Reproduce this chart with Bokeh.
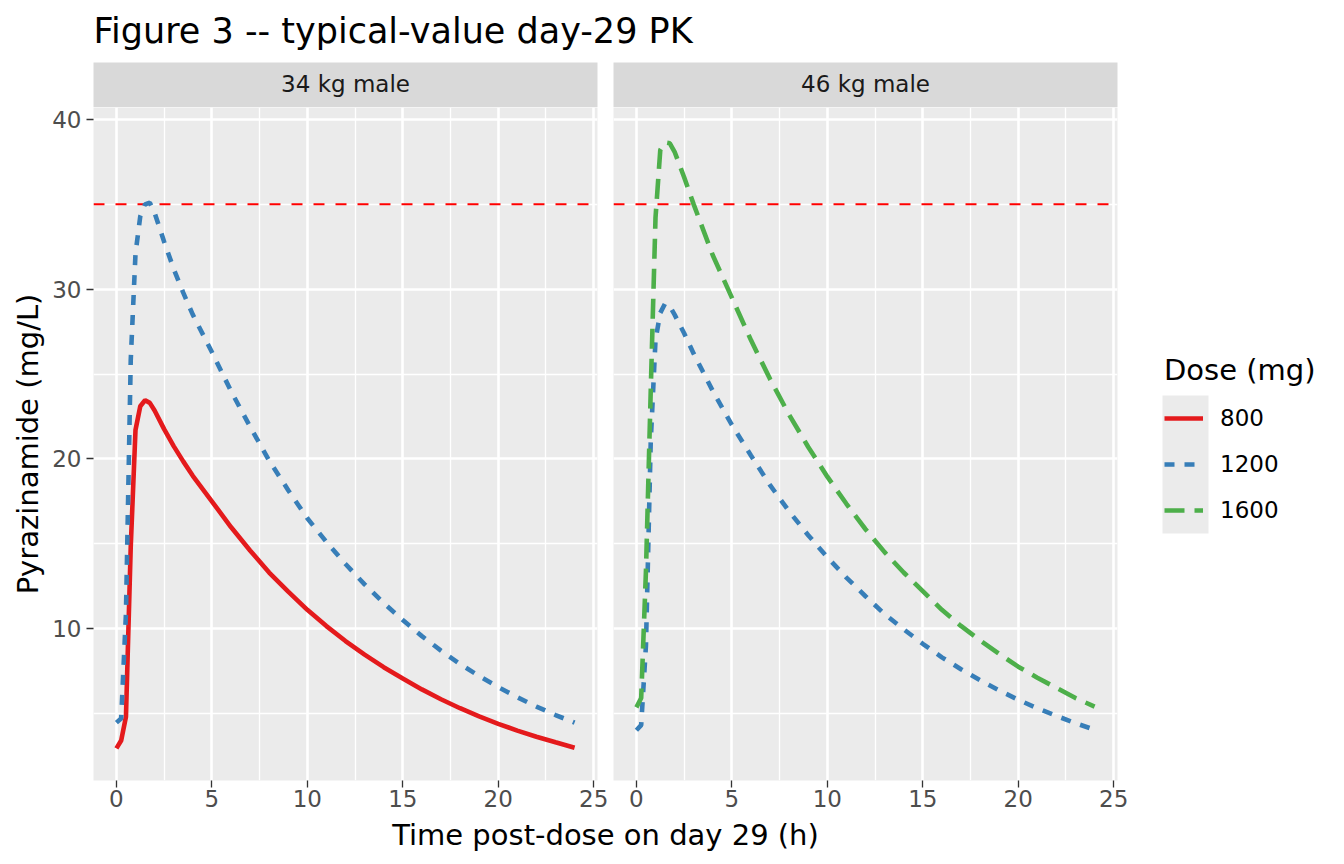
from bokeh.plotting import figure
from bokeh.layouts import column, row
from bokeh.models import (Range1d, FixedTicker, Span, Label, Legend, LegendItem,
                          BoxAnnotation, Grid)
from bokeh.embed import file_html
from bokeh.resources import INLINE

# ---- data: typical-value day-29 pyrazinamide concentrations (mg/L) ----
time_h = [0, 0.25, 0.5, 0.75, 1, 1.25, 1.5, 1.75, 2, 2.5, 3, 3.5, 4, 5, 6, 7, 8,
          9, 10, 11, 12, 13, 14, 15, 16, 17, 18, 19, 20, 21, 22, 23, 24]

conc_34kg_800 = [2.93, 3.4, 4.8, 14.8, 21.7, 23.1, 23.45, 23.3, 22.85, 21.75, 20.75,
                 19.85, 19.0, 17.5, 15.98, 14.6, 13.3, 12.17, 11.1, 10.14, 9.26, 8.46,
                 7.72, 7.05, 6.41, 5.83, 5.3, 4.82, 4.38, 3.98, 3.62, 3.29, 2.97]
conc_34kg_1200 = [4.45, 4.7, 10.9, 25.8, 32.1, 34.3, 35.0, 35.1, 34.5, 32.8, 31.2,
                  29.8, 28.5, 26.3, 24.0, 21.9, 19.9, 18.15, 16.5, 15.1, 13.8, 12.6,
                  11.5, 10.5, 9.55, 8.7, 7.9, 7.2, 6.55, 5.95, 5.4, 4.9, 4.45]
conc_46kg_1200 = [4.0, 4.3, 9.0, 21.0, 27.0, 28.6, 29.15, 29.0, 28.5, 27.4, 26.2,
                  25.1, 24.0, 22.0, 20.2, 18.45, 16.9, 15.5, 14.2, 13.0, 11.9, 10.85,
                  9.95, 9.1, 8.3, 7.6, 6.95, 6.35, 5.8, 5.3, 4.85, 4.42, 4.03]
conc_46kg_1600 = [5.35, 5.9, 13.4, 24.0, 34.2, 38.2, 38.65, 38.6, 38.1, 36.6, 35.0,
                  33.5, 32.0, 29.5, 27.0, 24.7, 22.6, 20.7, 18.95, 17.35, 15.85, 14.5,
                  13.3, 12.2, 11.1, 10.15, 9.3, 8.5, 7.75, 7.1, 6.5, 5.9, 5.4]

panel_labels = ["34 kg male", "46 kg male"]
dose_labels = ["800", "1200", "1600"]
threshold = 35

x_ticks = [0, 5, 10, 15, 20, 25]
x_minor = [2.5, 7.5, 12.5, 17.5, 22.5]
y_ticks = [10, 20, 30, 40]
y_minor = [5, 15, 25, 35]

# ---- styling ----
FONT = "DejaVu Sans"
PANEL_BG = "#EBEBEB"
STRIP_BG = "#D9D9D9"
DOSE_STYLE = {
    "800": dict(color="#E41A1C", dash="solid"),
    "1200": dict(color="#377EB8", dash="10 10"),
    "1600": dict(color="#4DAF4A", dash="20 10"),
}
LINE_W = 4.6

FRAME_W, FRAME_H = 504, 673
LEFT_PAD, GAP_L, GAP_R, RIGHT_PAD = 93, 16, 0, 20
BOTTOM_PAD = 36
HEADER_H, STRIP_H = 62, 45
W_LEFT = LEFT_PAD + FRAME_W + GAP_L
W_RIGHT = GAP_R + FRAME_W + RIGHT_PAD
W_TOTAL = 1344
PANEL_H = FRAME_H + BOTTOM_PAD
FOOTER_H = 864 - HEADER_H - STRIP_H - PANEL_H


def blank(width, height, xr, yr, bottom=0):
    p = figure(width=width, height=height, x_range=Range1d(*xr), y_range=Range1d(*yr),
               output_backend="svg", toolbar_location=None, title=None,
               min_border=0, min_border_bottom=bottom,
               x_axis_location=None, y_axis_location=None,
               background_fill_color="white", border_fill_color="white",
               outline_line_color=None)
    p.grid.visible = False
    return p


def style_axis(ax, standoff):
    ax.axis_line_color = None
    ax.major_tick_line_color = "#333333"
    ax.major_tick_line_width = 1.3
    ax.major_tick_out = 7
    ax.major_tick_in = 0
    ax.minor_tick_line_color = None
    ax.major_label_text_font = FONT
    ax.major_label_text_font_size = "23px"
    ax.major_label_text_color = "#4D4D4D"
    ax.major_label_standoff = standoff


def make_panel(width, left, right, show_y):
    p = figure(width=width, height=PANEL_H, title=None,
               x_range=Range1d(-1.2, 25.2), y_range=Range1d(1.04, 40.71),
               output_backend="svg", toolbar_location=None,
               min_border_left=left, min_border_right=right,
               min_border_top=0, min_border_bottom=BOTTOM_PAD,
               background_fill_color=PANEL_BG, border_fill_color="white",
               outline_line_color=None,
               y_axis_location="left" if show_y else None)
    xt = FixedTicker(ticks=x_ticks, minor_ticks=x_minor)
    yt = FixedTicker(ticks=y_ticks, minor_ticks=y_minor)
    p.xaxis.ticker = xt
    style_axis(p.xaxis[0], 2)
    p.xgrid.ticker = xt
    if show_y:
        p.yaxis.ticker = yt
        style_axis(p.yaxis[0], 5)
        p.yaxis.axis_label = "Pyrazinamide (mg/L)"
        p.yaxis.axis_label_text_font = FONT
        p.yaxis.axis_label_text_font_size = "29px"
        p.yaxis.axis_label_text_font_style = "normal"
        p.yaxis.axis_label_text_color = "black"
        p.yaxis.axis_label_standoff = 4
    if len(p.ygrid) == 0:
        p.add_layout(Grid(dimension=1, ticker=yt), "center")
    p.ygrid.ticker = yt
    for g in p.grid:
        g.grid_line_color = "white"
        g.grid_line_width = 2.6
        g.minor_grid_line_color = "white"
        g.minor_grid_line_width = 1.3
    ref = Span(location=threshold, dimension="width", line_color="#FF0000",
               line_width=2, line_dash="11 11", level="underlay")
    p.add_layout(ref)
    return p


def add_curve(p, y, dose):
    st = DOSE_STYLE[dose]
    return p.line(x=time_h, y=y, line_color=st["color"], line_width=LINE_W,
                  line_dash=st["dash"])


# ---- header with the figure title ----
header = blank(W_TOTAL, HEADER_H, (0, W_TOTAL), (0, HEADER_H))
header.add_layout(Label(x=LEFT_PAD, y=32, text="Figure 3 -- typical-value day-29 PK",
                        text_font=FONT, text_font_size="35px", text_color="black",
                        text_align="left", text_baseline="alphabetic"))


# ---- facet strips ----
def make_strip(width, left, right, text):
    s = figure(width=width, height=STRIP_H, x_range=Range1d(0, 1), y_range=Range1d(0, 1),
               output_backend="svg", toolbar_location=None, title=None,
               min_border_left=left, min_border_right=right,
               min_border_top=0, min_border_bottom=0,
               x_axis_location=None, y_axis_location=None,
               background_fill_color=STRIP_BG, border_fill_color="white",
               outline_line_color=None)
    s.grid.visible = False
    s.add_layout(Label(x=0.5, y=0.52, text=text, text_font=FONT,
                       text_font_size="23px", text_color="#1A1A1A",
                       text_align="center", text_baseline="middle"))
    return s


strip_l = make_strip(W_LEFT, LEFT_PAD, GAP_L, panel_labels[0])
strip_r = make_strip(W_RIGHT, GAP_R, RIGHT_PAD, panel_labels[1])

# ---- panels ----
p_left = make_panel(W_LEFT, LEFT_PAD, GAP_L, True)
add_curve(p_left, conc_34kg_800, "800")
add_curve(p_left, conc_34kg_1200, "1200")

p_right = make_panel(W_RIGHT, GAP_R, RIGHT_PAD, False)
add_curve(p_right, conc_46kg_1200, "1200")
add_curve(p_right, conc_46kg_1600, "1600")

# ---- legend (its frame lines up with the panel frames: 1 data unit = 1 px) ----
W_LEG = W_TOTAL - W_LEFT - W_RIGHT
leg_fig = blank(W_LEG, PANEL_H, (0, W_LEG), (0, FRAME_H), bottom=BOTTOM_PAD)
KEY_BOTTOM, KEY_TOP = 247, 385
leg_fig.add_layout(BoxAnnotation(left=25, right=71, bottom=KEY_BOTTOM, top=KEY_TOP,
                                 fill_color=PANEL_BG, fill_alpha=1.0,
                                 line_color=None, level="underlay"))
nan = float("nan")
items = []
for d in dose_labels:
    st = DOSE_STYLE[d]
    r = leg_fig.line(x=[nan], y=[nan], line_color=st["color"], line_width=LINE_W,
                     line_dash=st["dash"])
    items.append(LegendItem(label=d, renderers=[r]))
legend = Legend(items=items, location=(27, KEY_BOTTOM), title="Dose (mg)",
                title_text_font=FONT, title_text_font_size="29px",
                title_text_font_style="normal", title_text_color="black",
                title_standoff=8,
                label_text_font=FONT, label_text_font_size="23px",
                label_text_color="black",
                glyph_width=39, glyph_height=46, label_height=46,
                label_standoff=17, spacing=0, padding=0, margin=0,
                background_fill_alpha=0, border_line_color=None)
leg_fig.add_layout(legend)

# ---- footer with the shared x-axis title ----
footer = blank(W_TOTAL, FOOTER_H, (0, W_TOTAL), (0, FOOTER_H))
footer.add_layout(Label(x=LEFT_PAD + (FRAME_W * 2 + GAP_L + GAP_R) / 2, y=30,
                        text="Time post-dose on day 29 (h)", text_font=FONT,
                        text_font_size="29px", text_color="black",
                        text_align="center", text_baseline="alphabetic"))

layout = column(header, row(strip_l, strip_r), row(p_left, p_right, leg_fig), footer)

open("out.html", "w").write(file_html(layout, INLINE, title="Figure 3"))
